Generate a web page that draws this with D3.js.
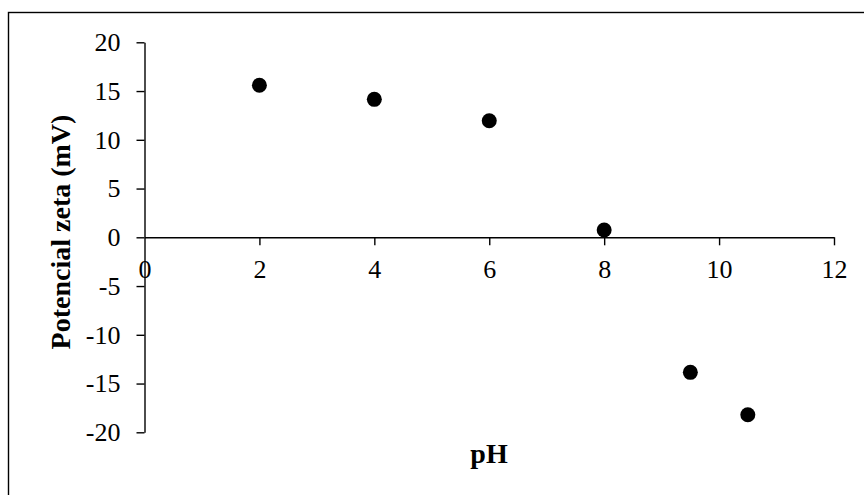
<!DOCTYPE html>
<html>
<head>
<meta charset="utf-8">
<script src="https://cdn.jsdelivr.net/npm/d3@7"></script>
<style>
html, body { margin: 0; padding: 0; background: #fff; }
svg { display: block; }
text { font-family: "Liberation Serif", "Times New Roman", serif; fill: #000; }
</style>
</head>
<body>
<svg id="chart" width="864" height="495"></svg>
<script>
const phValues = [2, 4, 6, 8, 9.5, 10.5];
const zetaValues = [15.6, 14.15, 11.95, 0.75, -13.85, -18.2];
const xTicks = [0, 2, 4, 6, 8, 10, 12];
const yTicks = [20, 15, 10, 5, 0, -5, -10, -15, -20];
const xTitle = "pH";
const yTitle = "Potencial zeta (mV)";

const svg = d3.select("#chart");

// outer border
svg.append("rect")
  .attr("x", 8.5).attr("y", 12.5)
  .attr("width", 900).attr("height", 600)
  .attr("fill", "none").attr("stroke", "#000").attr("stroke-width", 1.4);

const x = d3.scaleLinear().domain([0, 12]).range([144.5, 834]);
const y = d3.scaleLinear().domain([-20, 20]).range([432.3, 42.3]);
const fmt = d => String(d);

// Y axis (left ticks)
const yAxis = svg.append("g")
  .attr("transform", `translate(${x(0)},0)`)
  .call(d3.axisLeft(y).tickValues(yTicks).tickSize(8).tickSizeOuter(0).tickPadding(16).tickFormat(fmt));
yAxis.select(".domain").attr("stroke", "#000").attr("stroke-width", 1.4);
yAxis.selectAll(".tick line").attr("stroke", "#000").attr("stroke-width", 1.4);
yAxis.selectAll(".tick text")
  .style("font-family", "'Liberation Serif', serif")
  .style("font-size", "26px")
  .attr("fill", "#000");
yAxis.attr("font-family", null).attr("font-size", null);

// X axis at y = 0 (bottom ticks)
const xAxis = svg.append("g")
  .attr("transform", `translate(0,${y(0)})`)
  .call(d3.axisBottom(x).tickValues(xTicks).tickSize(8).tickSizeOuter(0).tickPadding(14).tickFormat(fmt));
xAxis.select(".domain").attr("stroke", "#000").attr("stroke-width", 1.4);
xAxis.selectAll(".tick line").attr("stroke", "#000").attr("stroke-width", 1.4);
xAxis.selectAll(".tick").filter(d => d === 0).select("line").remove();
xAxis.selectAll(".tick text")
  .style("font-family", "'Liberation Serif', serif")
  .style("font-size", "26px")
  .attr("fill", "#000");
xAxis.attr("font-family", null).attr("font-size", null);

// points
svg.append("g").selectAll("circle")
  .data(phValues.map((p, i) => ({ p, z: zetaValues[i] })))
  .join("circle")
  .attr("cx", d => x(d.p))
  .attr("cy", d => y(d.z))
  .attr("r", 7.5)
  .attr("fill", "#000");

// axis titles
svg.append("text")
  .attr("x", 489).attr("y", 463)
  .attr("text-anchor", "middle")
  .style("font-size", "28px").style("font-weight", "bold")
  .text(xTitle);

svg.append("text")
  .attr("transform", "translate(70,232) rotate(-90)")
  .attr("text-anchor", "middle")
  .style("font-size", "28px").style("font-weight", "bold")
  .text(yTitle);
</script>
</body>
</html>
